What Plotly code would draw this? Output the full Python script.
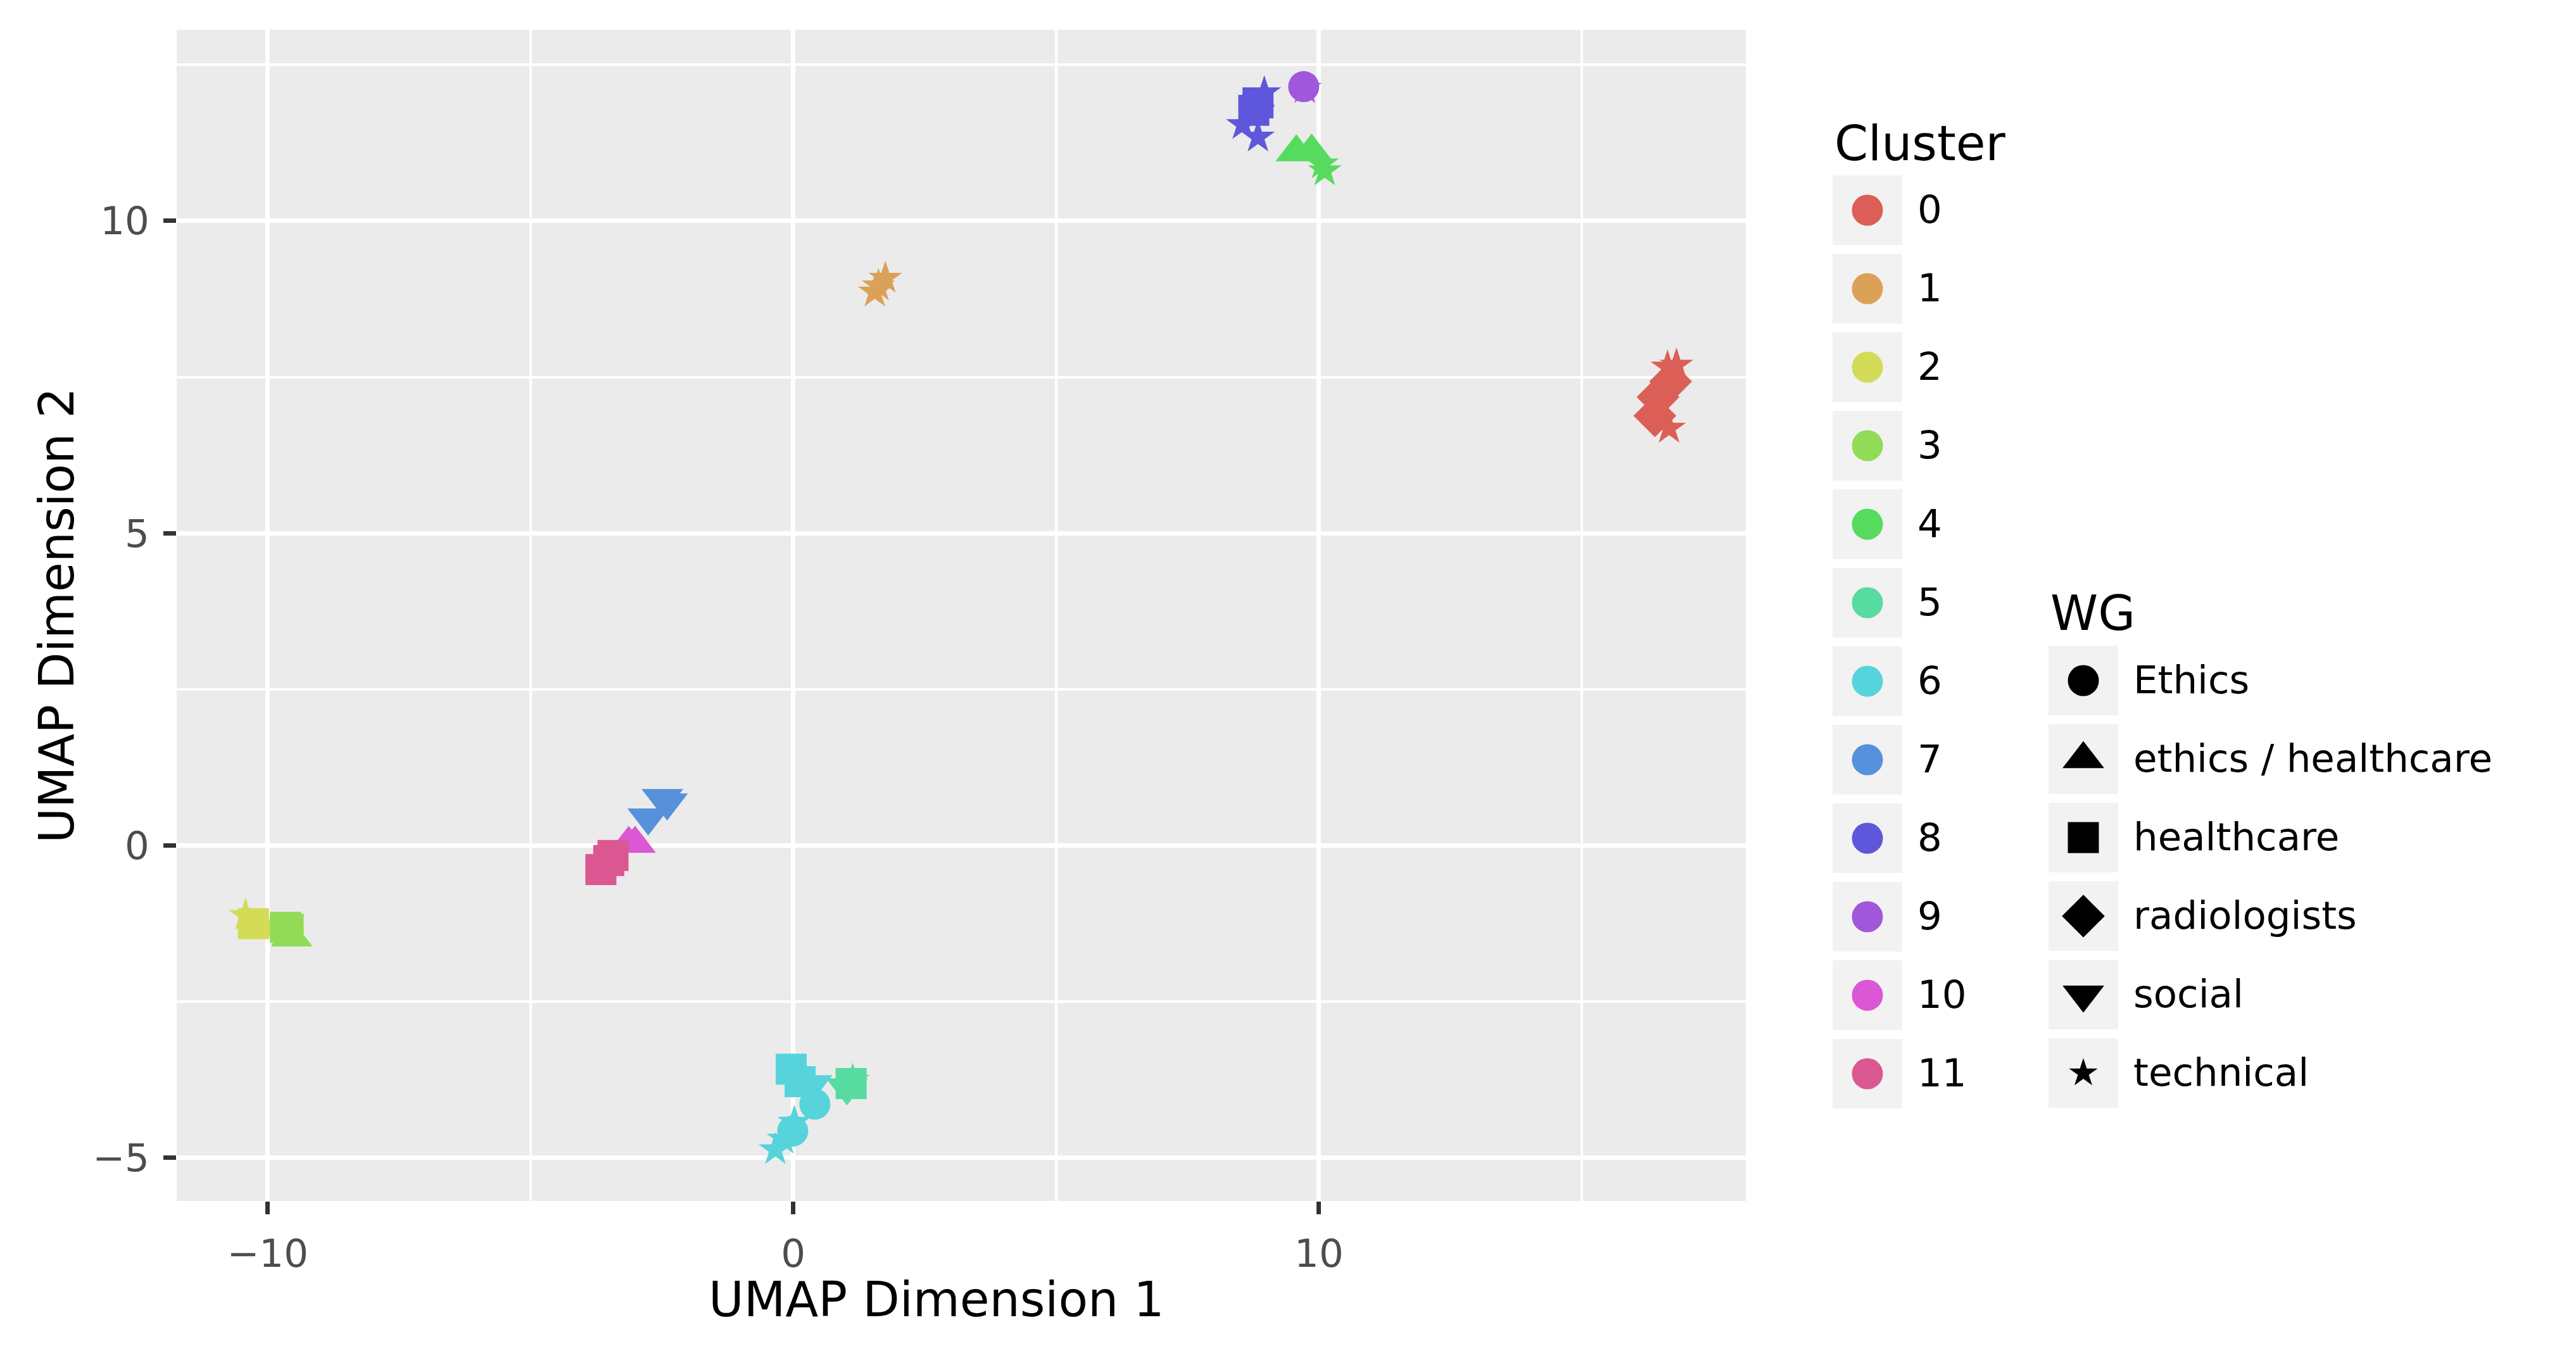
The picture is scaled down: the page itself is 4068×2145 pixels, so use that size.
import plotly.graph_objects as go

W, H = 4068, 2145
OFF = 8  # default body margin of the html page

# cluster colours (plotnine default hue palette, 12 levels)
cluster_colors = ["#DB5F57", "#DBA157", "#D3DB57", "#91DB57", "#57DB5F", "#57DBA1",
                  "#57D3DB", "#5791DB", "#5F57DB", "#A157DB", "#DB57D3", "#DB5791"]
cluster_levels = [str(i) for i in range(12)]

wg_levels = ["Ethics", "ethics / healthcare", "healthcare", "radiologists", "social", "technical"]
wg_symbols = ["circle", "triangle-up", "square", "diamond", "triangle-down", "star"]
wg_sizes = [49, 57, 49, 52, 57, 40]

# UMAP points
point_cluster = [0, 0, 0, 0, 0, 0,
                 1, 1, 1,
                 2, 2, 2,
                 3, 3, 3,
                 4, 4, 4, 4,
                 5, 5, 5,
                 6, 6, 6, 6, 6, 6, 6, 6,
                 7, 7, 7,
                 8, 8, 8, 8, 8,
                 9, 9,
                 10, 10,
                 11, 11, 11]
point_wg = ["radiologists", "radiologists", "radiologists", "technical", "technical", "technical",
            "technical", "technical", "technical",
            "technical", "healthcare", "ethics / healthcare",
            "healthcare", "healthcare", "ethics / healthcare",
            "ethics / healthcare", "ethics / healthcare", "technical", "technical",
            "social", "technical", "healthcare",
            "healthcare", "healthcare", "social", "Ethics", "Ethics", "technical", "technical", "technical",
            "social", "social", "social",
            "technical", "healthcare", "healthcare", "technical", "technical",
            "technical", "Ethics",
            "ethics / healthcare", "ethics / healthcare",
            "healthcare", "healthcare", "healthcare"]
umap_x = [16.39, 16.45, 16.69, 16.80, 16.63, 16.66,
          1.75, 1.55, 1.62,
          -10.42, -10.27, -10.10,
          -9.66, -9.61, -9.54,
          9.57, 9.86, 10.06, 10.11,
          1.02, 1.13, 1.10,
          -0.04, 0.13, 0.35, 0.41, -0.01, 0.02, -0.19, -0.34,
          -2.76, -2.49, -2.40,
          8.96, 8.84, 8.76, 8.55, 8.84,
          9.73, 9.71,
          -3.13, -3.01,
          -3.66, -3.51, -3.43]
umap_y = [6.88, 7.18, 7.43, 7.69, 7.66, 6.68,
          9.08, 8.86, 8.96,
          -1.12, -1.25, -1.32,
          -1.31, -1.34, -1.47,
          11.10, 11.11, 10.91, 10.80,
          -3.87, -3.76, -3.81,
          -3.58, -3.78, -3.82, -4.14, -4.57, -4.43, -4.70, -4.87,
          0.45, 0.76, 0.69,
          12.05, 11.89, 11.77, 11.54, 11.34,
          12.12, 12.15,
          0.03, 0.03,
          -0.385, -0.24, -0.16]

x_ticks = [-10, 0, 10]
y_ticks = [-5, 0, 5, 10]

FONT = "DejaVu Sans"
KEY_GREY = "#F2F2F2"
FW, FH = W - OFF, H - OFF

fig = go.Figure()

# data points, one trace per cluster
for ci, cl in enumerate(cluster_levels):
    idx = [i for i, c in enumerate(point_cluster) if c == ci]
    syms = [wg_symbols[wg_levels.index(point_wg[i])] for i in idx]
    sizes = [wg_sizes[wg_levels.index(point_wg[i])] for i in idx]
    fig.add_trace(go.Scatter(
        x=[umap_x[i] for i in idx],
        y=[umap_y[i] for i in idx],
        mode="markers",
        marker=dict(color=cluster_colors[ci], symbol=syms, size=sizes, opacity=1, line=dict(width=0)),
        showlegend=False,
        xaxis="x", yaxis="y"
    ))

# manual legends drawn on a page-sized helper axis (pixel units of the screenshot)
shapes = [dict(type="rect", xref="x domain", yref="y domain", x0=0, x1=1, y0=0, y1=1,
               fillcolor="#EBEBEB", line=dict(width=0), layer="below")]
annotations = []

# x axis title sits a little left of the panel centre in the original
annotations.append(dict(x=1479, y=2052, xref="x2", yref="y2", text="UMAP Dimension 1", showarrow=False,
                        xanchor="center", yanchor="middle", font=dict(family=FONT, size=76, color="black")))

key = 110
pitch = 124
cl_left, cl_top = 2894, 277
wg_left, wg_top = 3235, 1020

annotations.append(dict(x=cl_left + 1, y=226, xref="x2", yref="y2", text="Cluster", showarrow=False,
                        xanchor="left", yanchor="middle", font=dict(family=FONT, size=76, color="black")))
annotations.append(dict(x=wg_left + 1, y=968, xref="x2", yref="y2", text="WG", showarrow=False,
                        xanchor="left", yanchor="middle", font=dict(family=FONT, size=76, color="black")))

cl_cx, cl_cy = [], []
for i, cl in enumerate(cluster_levels):
    top = cl_top + i * pitch
    shapes.append(dict(type="rect", xref="x2", yref="y2", x0=cl_left, x1=cl_left + key,
                       y0=top, y1=top + key, fillcolor=KEY_GREY, line=dict(width=0), layer="below"))
    cl_cx.append(cl_left + key / 2)
    cl_cy.append(top + key / 2)
    annotations.append(dict(x=cl_left + key + 22, y=top + key / 2 - 2, xref="x2", yref="y2", text=cl,
                            showarrow=False, xanchor="left", yanchor="middle",
                            font=dict(family=FONT, size=61, color="black")))

fig.add_trace(go.Scatter(x=cl_cx, y=cl_cy, mode="markers",
                         marker=dict(color=cluster_colors, symbol="circle", size=49, opacity=1, line=dict(width=0)),
                         showlegend=False, xaxis="x2", yaxis="y2", hoverinfo="skip"))

wg_cx, wg_cy = [], []
for i, wg in enumerate(wg_levels):
    top = wg_top + i * pitch
    shapes.append(dict(type="rect", xref="x2", yref="y2", x0=wg_left, x1=wg_left + key,
                       y0=top, y1=top + key, fillcolor=KEY_GREY, line=dict(width=0), layer="below"))
    wg_cx.append(wg_left + key / 2)
    wg_cy.append(top + key / 2)
    annotations.append(dict(x=wg_left + key + 22, y=top + key / 2 - 2, xref="x2", yref="y2", text=wg,
                            showarrow=False, xanchor="left", yanchor="middle",
                            font=dict(family=FONT, size=61, color="black")))

legend_sizes = [s if sym != "star" else 34 for s, sym in zip(wg_sizes, wg_symbols)]
fig.add_trace(go.Scatter(x=wg_cx, y=wg_cy, mode="markers",
                         marker=dict(color="black", symbol=wg_symbols, size=legend_sizes, opacity=1,
                                     line=dict(width=0)),
                         showlegend=False, xaxis="x2", yaxis="y2", hoverinfo="skip"))

axis_common = dict(
    showgrid=True, gridcolor="white", gridwidth=7, zeroline=False, showline=False,
    ticks="outside", ticklen=20, tickwidth=7, tickcolor="#333333",
    tickfont=dict(family=FONT, size=61, color="#4D4D4D"),
    automargin=False,
)

fig.update_layout(
    width=FW, height=FH,
    margin=dict(l=0, r=0, t=0, b=0),
    paper_bgcolor="white",
    plot_bgcolor="rgba(0,0,0,0)",
    showlegend=False,
    xaxis=dict(domain=[(279 - OFF) / FW, (2757 - OFF) / FW], range=[-11.73, 18.12], tickvals=x_ticks,
               minor=dict(tickvals=[-5, 5, 15], showgrid=True, gridcolor="white", gridwidth=3.5, ticks=""),
               anchor="y", ticklabelstandoff=10, **axis_common),
    yaxis=dict(domain=[1 - (1897 - OFF) / FH, 1 - (47 - OFF) / FH], range=[-5.69, 13.06], tickvals=y_ticks,
               minor=dict(tickvals=[-2.5, 2.5, 7.5, 12.5], showgrid=True, gridcolor="white", gridwidth=3.5, ticks=""),
               title=dict(text="UMAP Dimension 2", font=dict(family=FONT, size=76, color="black"), standoff=4),
               anchor="x", ticklabelstandoff=10, **axis_common),
    xaxis2=dict(domain=[0, 1], range=[OFF, W], visible=False, anchor="y2", fixedrange=True),
    yaxis2=dict(domain=[0, 1], range=[H, OFF], visible=False, anchor="x2", fixedrange=True),
    shapes=shapes,
    annotations=annotations,
)

fig.write_html("out.html")
